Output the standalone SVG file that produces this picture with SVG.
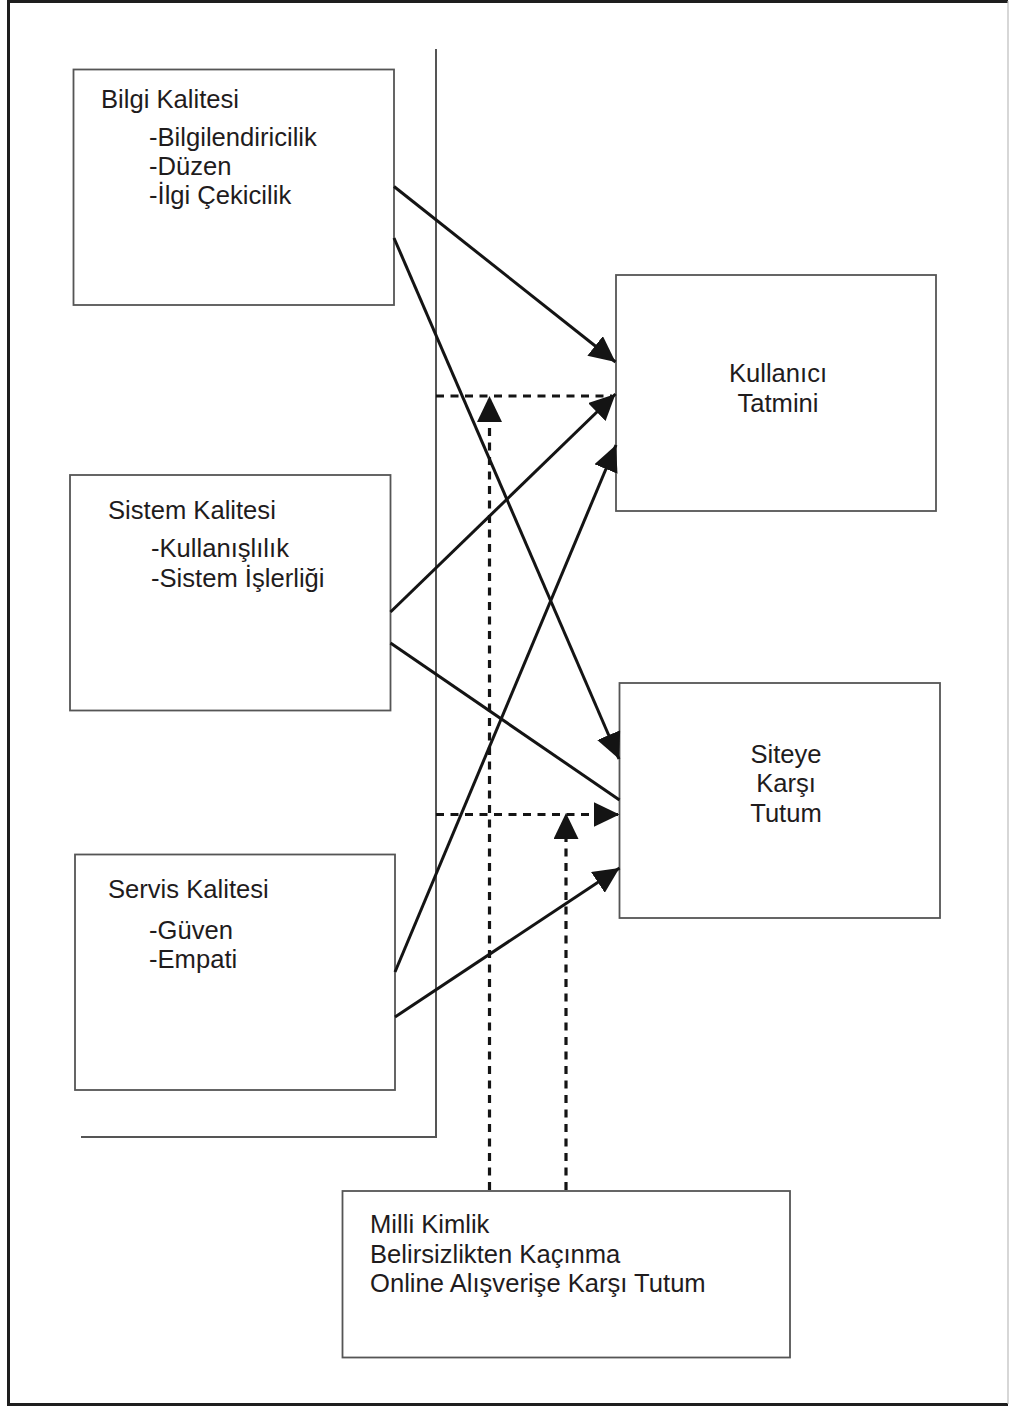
<svg xmlns="http://www.w3.org/2000/svg" width="1009" height="1407" viewBox="0 0 1009 1407">
  <style>
    text { font-family: "Liberation Sans", Arial, sans-serif; font-size: 25.6px; fill: #1f1c1d; }
    .box { fill: #ffffff; stroke: #555555; stroke-width: 1.8; }
    .mid { text-anchor: middle; }
    .guide { fill: none; stroke: #555555; stroke-width: 2; }
    .arrow { fill: none; stroke: #141414; stroke-width: 3; }
    .dash { fill: none; stroke: #141414; stroke-width: 3.2; stroke-dasharray: 8 6.5; }
  </style>
  <defs>
    <marker id="head" viewBox="0 0 26 25" refX="26" refY="12.5" markerWidth="26" markerHeight="25" markerUnits="userSpaceOnUse" orient="auto">
      <path d="M0,0 L26,12.5 L0,25 z" fill="#141414"/>
    </marker>
  </defs>

  <rect width="1009" height="1407" fill="#ffffff"/>

  <!-- page frame -->
  <g id="frame">
    <path d="M1008,1.5 L8.5,1.5 L8.5,1404.5 L1008,1404.5" fill="none" stroke="#1e1e1e" stroke-width="3"/>
    <line x1="1008" y1="1" x2="1008" y2="1404" stroke="#bdbdbd" stroke-width="1.2"/>
  </g>

  <!-- bracket grouping the three quality factors -->
  <g id="bracket">
    <polyline class="guide" points="436,49 436,1137 81,1137"/>
  </g>

  <g id="bilgi">
    <rect class="box" x="73.5" y="69.5" width="320.5" height="235.5"/>
    <text x="101" y="108">Bilgi Kalitesi</text>
    <text x="149" y="146">-Bilgilendiricilik</text>
    <text x="149" y="175">-Düzen</text>
    <text x="149" y="204">-İlgi Çekicilik</text>
  </g>

  <g id="sistem">
    <rect class="box" x="70" y="475" width="320.5" height="235.5"/>
    <text x="108" y="519">Sistem Kalitesi</text>
    <text x="151" y="557">-Kullanışlılık</text>
    <text x="151" y="586.5">-Sistem İşlerliği</text>
  </g>

  <g id="servis">
    <rect class="box" x="75" y="854.5" width="320" height="235.5"/>
    <text x="108" y="898">Servis Kalitesi</text>
    <text x="149" y="939">-Güven</text>
    <text x="149" y="967.5">-Empati</text>
  </g>

  <g id="tatmin">
    <rect class="box" x="616" y="275" width="320" height="236"/>
    <text class="mid" x="778" y="382">Kullanıcı</text>
    <text class="mid" x="778" y="411.5">Tatmini</text>
  </g>

  <g id="tutum">
    <rect class="box" x="619.5" y="683" width="320.5" height="235"/>
    <text class="mid" x="786" y="763">Siteye</text>
    <text class="mid" x="786" y="792">Karşı</text>
    <text class="mid" x="786" y="821.5">Tutum</text>
  </g>

  <g id="moderator">
    <rect class="box" x="342.5" y="1191" width="447.5" height="166.5"/>
    <text x="370" y="1233">Milli Kimlik</text>
    <text x="370" y="1262.5">Belirsizlikten Kaçınma</text>
    <text x="370" y="1291.5">Online Alışverişe Karşı Tutum</text>
  </g>

  <g id="connectors">
    <!-- direct effects -->
    <line class="arrow" x1="394" y1="186.5" x2="615.5" y2="362" marker-end="url(#head)"/>
    <line class="arrow" x1="394" y1="238" x2="619" y2="759" marker-end="url(#head)"/>
    <line class="arrow" x1="390.5" y1="612" x2="615.5" y2="394" marker-end="url(#head)"/>
    <line class="arrow" x1="390.5" y1="643" x2="619.5" y2="800"/>
    <line class="arrow" x1="395" y1="972" x2="616" y2="445" marker-end="url(#head)"/>
    <line class="arrow" x1="395" y1="1017" x2="619.5" y2="868" marker-end="url(#head)"/>
    <!-- moderating effects -->
    <line class="dash" x1="436" y1="396" x2="612" y2="396"/>
    <line class="dash" x1="436" y1="814.5" x2="619.5" y2="814.5" marker-end="url(#head)"/>
    <line class="dash" x1="489.5" y1="1190" x2="489.5" y2="396" marker-end="url(#head)"/>
    <line class="dash" x1="566" y1="1190" x2="566" y2="813" marker-end="url(#head)"/>
  </g>
</svg>
